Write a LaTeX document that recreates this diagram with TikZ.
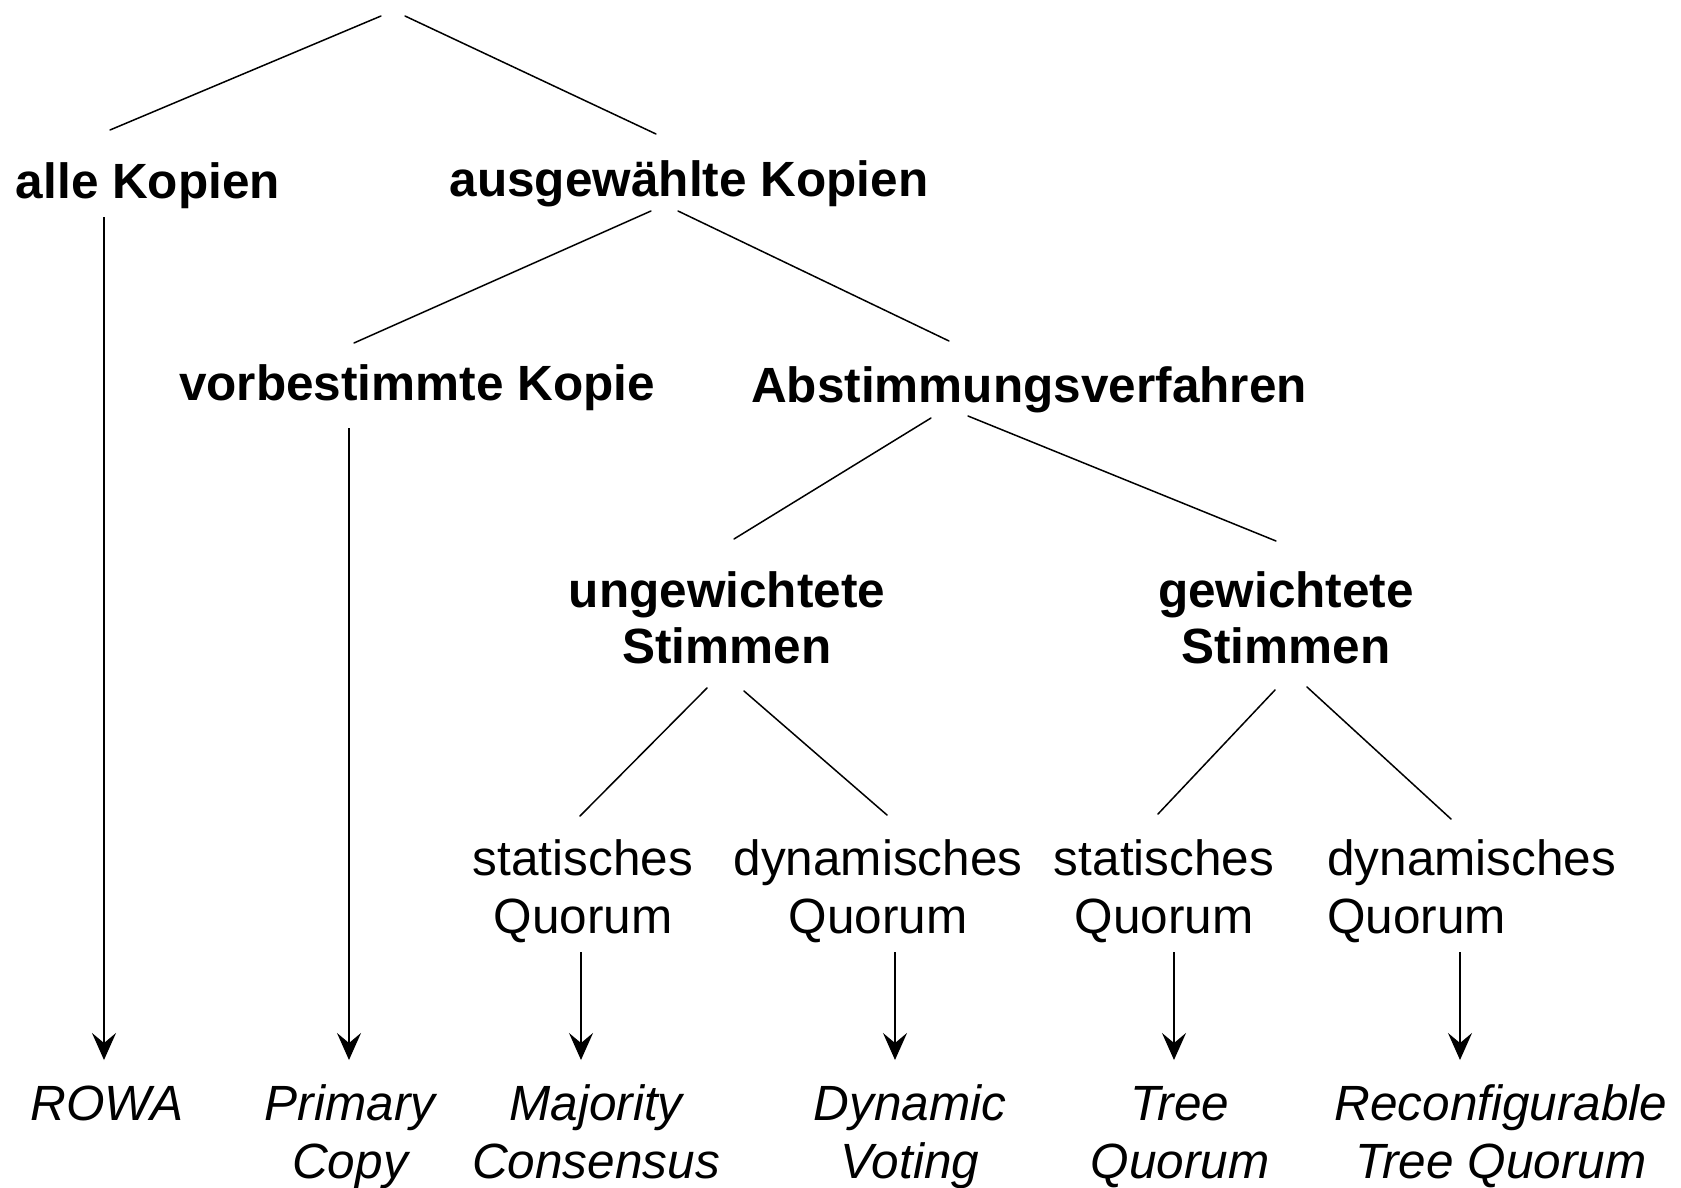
\documentclass[tikz,border=0pt]{standalone}
\usepackage{fontspec}
\setmainfont{Liberation Sans}
\usetikzlibrary{arrows.meta,calc}
\begin{document}
\begin{tikzpicture}[x=1pt,y=-1pt,
  lbl/.style={inner sep=0pt, anchor=base, font=\fontsize{49.5}{57}\selectfont},
  cat/.style={lbl, align=center, font=\fontsize{49.5}{56}\selectfont\bfseries},
  quorum/.style={lbl, align=center, font=\fontsize{49.5}{58}\selectfont},
  method/.style={lbl, align=center, font=\fontsize{49.5}{58}\selectfont\itshape},
  edge/.style={line width=1.5pt, line cap=round},
  arr/.style={line width=1.8pt, -{Stealth[length=27pt,width=24pt,inset=10pt]}}]

% page area
\fill[white] (0,0) rectangle (1681,1188);
\useasboundingbox (0,0) rectangle (1681,1188);

% top of the tree (no label)
\coordinate (root) at (393,16);

% category levels (multi-line nodes are placed by their last baseline)
\node[cat] (allek) at (148,198) {alle Kopien};
\node[cat] (ausg)  at (689,196) {ausgewählte Kopien};
\node[cat] (vorb)  at (417,400) {vorbestimmte Kopie};
\node[cat] (abst)  at (1029,402) {Abstimmungsverfahren};
\node[cat] (ungew) at (727,663) {ungewichtete\\Stimmen};
\node[cat] (gew)   at (1286,663) {gewichtete\\Stimmen};

% quorum kinds
\node[quorum] (sq1) at (583,933) {statisches\\Quorum};
\node[quorum] (dq1) at (878,933) {dynamisches\\Quorum};
\node[quorum] (sq2) at (1164,933) {statisches\\Quorum};
\node[quorum, align=left, anchor=base west] (dq2) at (1327,933) {dynamisches\\Quorum};

% concrete methods
\node[method] (rowa)   at (107,1120) {ROWA};
\node[method] (prim)   at (350,1178) {Primary\\Copy};
\node[method] (maj)    at (596,1178) {Majority\\Consensus};
\node[method] (dyn)    at (910,1178) {Dynamic\\Voting};
\node[method] (tree)   at (1180,1178) {Tree\\Quorum};
\node[method] (reconf) at (1501,1178) {Reconfigurable\\Tree Quorum};

% tree branches
\draw[edge] ($(root)+(-12,0)$) -- ($(allek.base)+(-38,-68)$);
\draw[edge] ($(root)+(12,0)$)  -- ($(ausg.base)+(-33,-62)$);
\draw[edge] ($(ausg.base)+(-38,15)$) -- ($(vorb.base)+(-63,-57)$);
\draw[edge] ($(ausg.base)+(-11,15)$) -- ($(abst.base)+(-80,-61)$);
\draw[edge] ($(abst.base)+(-98,16)$) -- ($(ungew.base)+(7,-124)$);
\draw[edge] ($(abst.base)+(-61,14)$) -- ($(gew.base)+(-10,-122)$);
\draw[edge] ($(ungew.base)+(-20,25)$) -- ($(sq1.base)+(-3,-117)$);
\draw[edge] ($(ungew.base)+(17,28)$)  -- ($(dq1.base)+(9,-118)$);
\draw[edge] ($(gew.base)+(-11,27)$)   -- ($(sq2.base)+(-6,-119)$);
\draw[edge] ($(gew.base)+(21,24)$)    -- ($(dq2.base west)+(124,-114)$);

% arrows down to the methods
\draw[arr] ($(allek.base)+(-44,19)$) -- ($(rowa.base)+(-3,-60)$);
\draw[arr] ($(vorb.base)+(-68,28)$)  -- ($(prim.base)+(-1,-118)$);
\draw[arr] ($(sq1.base)+(-2,19)$)    -- ($(maj.base)+(-15,-118)$);
\draw[arr] ($(dq1.base)+(17,19)$)    -- ($(dyn.base)+(-15,-118)$);
\draw[arr] ($(sq2.base)+(10,19)$)    -- ($(tree.base)+(-6,-118)$);
\draw[arr] ($(dq2.base west)+(133,19)$) -- ($(reconf.base)+(-41,-118)$);
\end{tikzpicture}
\end{document}
